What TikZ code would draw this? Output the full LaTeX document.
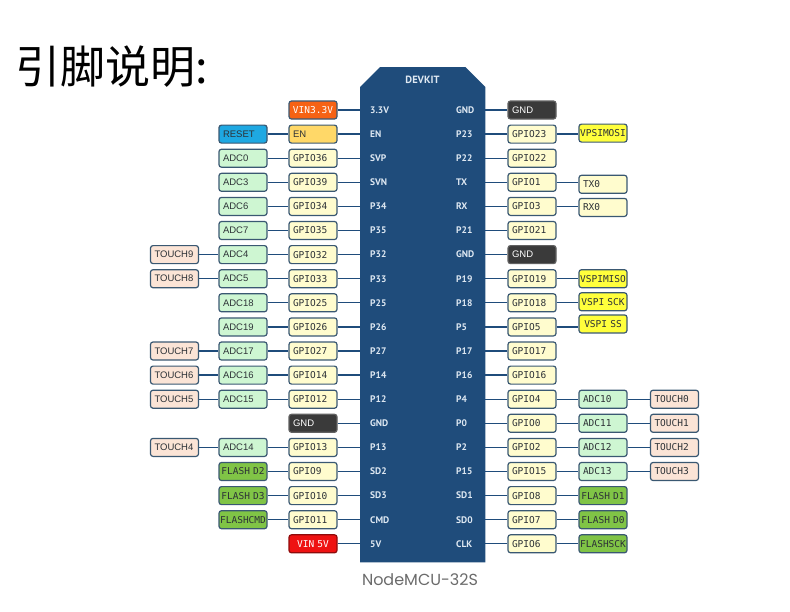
\documentclass[tikz,border=0pt]{standalone}
\usepackage{fontspec}
\setmainfont{Liberation Sans}
\newfontfamily\monof{DejaVu Sans Mono}
\newfontfamily\pinf{PT Sans}
\newfontfamily\cjkf{Noto Sans CJK SC}
\newfontfamily\logof{Poppins}
\definecolor{boardc}{RGB}{31,76,123}
\definecolor{edgec}{RGB}{58,88,114}
\definecolor{wirec}{RGB}{31,76,123}
\definecolor{txtc}{RGB}{45,50,55}
\definecolor{pintxt}{RGB}{222,232,242}
\definecolor{gpioc}{RGB}{255,252,206}
\definecolor{adcc}{RGB}{206,246,210}
\definecolor{touchc}{RGB}{251,228,214}
\definecolor{vspic}{RGB}{255,255,60}
\definecolor{flashc}{RGB}{128,196,70}
\definecolor{gndc}{RGB}{58,58,58}
\definecolor{vin33c}{RGB}{246,98,20}
\definecolor{vin5c}{RGB}{238,18,18}
\definecolor{enc}{RGB}{255,216,104}
\definecolor{resetc}{RGB}{30,168,226}
\tikzset{
  box/.style={rectangle, rounded corners=2.5pt, draw=edgec, line width=1.2pt,
    minimum width=48pt, minimum height=18pt, inner xsep=4pt, inner ysep=0pt,
    text width=40pt, align=left, text=txtc,
    font=\monof\fontsize{9.5}{11}\selectfont},
  sansbox/.style={font=\fontsize{9.5}{11}\selectfont},
  wide/.style={inner xsep=1pt, text width=46pt, align=center},
  gpio/.style={box, fill=gpioc},
  adcs/.style={box, sansbox, fill=adcc},
  adcm/.style={box, fill=adcc},
  touchs/.style={box, sansbox, fill=touchc},
  touchm/.style={box, fill=touchc},
  vspi/.style={box, wide, fill=vspic},
  flash/.style={box, wide, fill=flashc},
  gnd/.style={box, sansbox, fill=gndc, draw=gndc!80!white, text=white},
  vin33/.style={box, wide, fill=vin33c, text=white},
  vin5/.style={box, wide, fill=vin5c, draw=vin5c!60!black, text=white},
  enbox/.style={box, sansbox, fill=enc},
  resetbox/.style={box, sansbox, fill=resetc},
  pinlab/.style={anchor=west, inner sep=0pt, text=pintxt,
    font=\pinf\bfseries\fontsize{9.5}{11}\selectfont},
  wire/.style={draw=wirec, line width=1.3pt}
}
\begin{document}
\begin{tikzpicture}[x=1pt,y=-1pt]
\useasboundingbox (0,0) rectangle (790,611);
% title
\node[anchor=west, inner sep=0pt, font=\cjkf\fontsize{45}{50}\selectfont] (title) at (15,67) {引脚说明:};
% board
\node[minimum width=125pt, minimum height=495pt, inner sep=0pt, anchor=north west] (board) at (360,67) {};
\fill[boardc] ([yshift=-20pt]board.north west) -- ([xshift=20pt]board.north west)
  -- ([xshift=-20pt]board.north east) -- ([yshift=-20pt]board.north east)
  -- (board.south east) -- (board.south west) -- cycle;
\node[text=pintxt, inner sep=0pt, font=\pinf\bfseries\fontsize{10.5}{12}\selectfont] (dk) at (422.5,80) {DEVKIT};
\foreach \t [count=\n from 0] in {3.3V,EN,SVP,SVN,P34,P35,P32,P33,P25,P26,P27,P14,P12,GND,P13,SD2,SD3,CMD,5V}
  \node[pinlab] (pl\n) at (370,{110+24.1*\n}) {\t};
\foreach \t [count=\n from 0] in {GND,P23,P22,TX,RX,P21,GND,P19,P18,P5,P17,P16,P4,P0,P2,P15,SD1,SD0,CLK}
  \node[pinlab] (pr\n) at (456,{110+24.1*\n}) {\t};
\node[font=\logof\fontsize{16}{18}\selectfont, text=black!58, inner sep=0pt] (mcu) at (420,580) {NodeMCU-32S};
% left side
\node[vin33] (la0) at (313,110.0) {VIN3.3V};
\node[enbox] (la1) at (313,134.1) {EN};
\node[resetbox] (lb1) at (243,134.1) {RESET};
\node[gpio] (la2) at (313,158.2) {GPIO36};
\node[adcs] (lb2) at (243,158.2) {ADC0};
\node[gpio] (la3) at (313,182.3) {GPIO39};
\node[adcs] (lb3) at (243,182.3) {ADC3};
\node[gpio] (la4) at (313,206.4) {GPIO34};
\node[adcs] (lb4) at (243,206.4) {ADC6};
\node[gpio] (la5) at (313,230.5) {GPIO35};
\node[adcs] (lb5) at (243,230.5) {ADC7};
\node[gpio] (la6) at (313,254.6) {GPIO32};
\node[adcs] (lb6) at (243,254.6) {ADC4};
\node[touchs] (lc6) at (174.5,254.6) {TOUCH9};
\node[gpio] (la7) at (313,278.7) {GPIO33};
\node[adcs] (lb7) at (243,278.7) {ADC5};
\node[touchs] (lc7) at (174.5,278.7) {TOUCH8};
\node[gpio] (la8) at (313,302.8) {GPIO25};
\node[adcs] (lb8) at (243,302.8) {ADC18};
\node[gpio] (la9) at (313,326.9) {GPIO26};
\node[adcs] (lb9) at (243,326.9) {ADC19};
\node[gpio] (la10) at (313,351.0) {GPIO27};
\node[adcs] (lb10) at (243,351.0) {ADC17};
\node[touchs] (lc10) at (174.5,351.0) {TOUCH7};
\node[gpio] (la11) at (313,375.1) {GPIO14};
\node[adcs] (lb11) at (243,375.1) {ADC16};
\node[touchs] (lc11) at (174.5,375.1) {TOUCH6};
\node[gpio] (la12) at (313,399.2) {GPIO12};
\node[adcs] (lb12) at (243,399.2) {ADC15};
\node[touchs] (lc12) at (174.5,399.2) {TOUCH5};
\node[gnd] (la13) at (313,423.3) {GND};
\node[gpio] (la14) at (313,447.4) {GPIO13};
\node[adcs] (lb14) at (243,447.4) {ADC14};
\node[touchs] (lc14) at (174.5,447.4) {TOUCH4};
\node[gpio] (la15) at (313,471.5) {GPIO9};
\node[flash] (lb15) at (243,471.5) {FLASH D2};
\node[gpio] (la16) at (313,495.6) {GPIO10};
\node[flash] (lb16) at (243,495.6) {FLASH D3};
\node[gpio] (la17) at (313,519.7) {GPIO11};
\node[flash] (lb17) at (243,519.7) {FLASHCMD};
\node[vin5] (la18) at (313,543.8) {VIN 5V};
% right side
\node[gnd] (ra0) at (532,110.0) {GND};
\node[gpio] (ra1) at (532,134.1) {GPIO23};
\node[vspi] (rb1) at (603,133.1) {VPSIMOSI};
\node[gpio] (ra2) at (532,158.2) {GPIO22};
\node[gpio] (ra3) at (532,182.3) {GPIO1};
\node[gpio] (rb3) at (603,184.3) {TX0};
\node[gpio] (ra4) at (532,206.4) {GPIO3};
\node[gpio] (rb4) at (603,207.4) {RX0};
\node[gpio] (ra5) at (532,230.5) {GPIO21};
\node[gnd] (ra6) at (532,254.6) {GND};
\node[gpio] (ra7) at (532,278.7) {GPIO19};
\node[vspi] (rb7) at (603,278.7) {VSPIMISO};
\node[gpio] (ra8) at (532,302.8) {GPIO18};
\node[vspi] (rb8) at (603,301.8) {VSPI SCK};
\node[gpio] (ra9) at (532,326.9) {GPIO5};
\node[vspi] (rb9) at (603,323.9) {VSPI SS};
\node[gpio] (ra10) at (532,351.0) {GPIO17};
\node[gpio] (ra11) at (532,375.1) {GPIO16};
\node[gpio] (ra12) at (532,399.2) {GPIO4};
\node[adcm] (rb12) at (603,399.2) {ADC10};
\node[touchm] (rc12) at (674.5,399.2) {TOUCH0};
\node[gpio] (ra13) at (532,423.3) {GPIO0};
\node[adcm] (rb13) at (603,423.3) {ADC11};
\node[touchm] (rc13) at (674.5,423.3) {TOUCH1};
\node[gpio] (ra14) at (532,447.4) {GPIO2};
\node[adcm] (rb14) at (603,447.4) {ADC12};
\node[touchm] (rc14) at (674.5,447.4) {TOUCH2};
\node[gpio] (ra15) at (532,471.5) {GPIO15};
\node[adcm] (rb15) at (603,471.5) {ADC13};
\node[touchm] (rc15) at (674.5,471.5) {TOUCH3};
\node[gpio] (ra16) at (532,495.6) {GPIO8};
\node[flash] (rb16) at (603,495.6) {FLASH D1};
\node[gpio] (ra17) at (532,519.7) {GPIO7};
\node[flash] (rb17) at (603,519.7) {FLASH D0};
\node[gpio] (ra18) at (532,543.8) {GPIO6};
\node[flash] (rb18) at (603,543.8) {FLASHSCK};
% wires
\foreach \i in {0,...,18} {
  \draw[wire] (la\i.east) -- (la\i.east -| board.west);
  \draw[wire] (ra\i.west) -- (ra\i.west -| board.east);
}
\foreach \i in {1,...,12,14,15,16,17}
  \draw[wire] (lb\i.east) -- (la\i.west);
\foreach \i in {6,7,10,11,12,14}
  \draw[wire] (lc\i.east) -- (lb\i.west);
\foreach \i in {1,3,4,7,8,9,12,13,14,15,16,17,18}
  \draw[wire] (ra\i.east) -- (ra\i.east -| rb\i.west);
\foreach \i in {12,13,14,15}
  \draw[wire] (rb\i.east) -- (rc\i.west);
\end{tikzpicture}
\end{document}
